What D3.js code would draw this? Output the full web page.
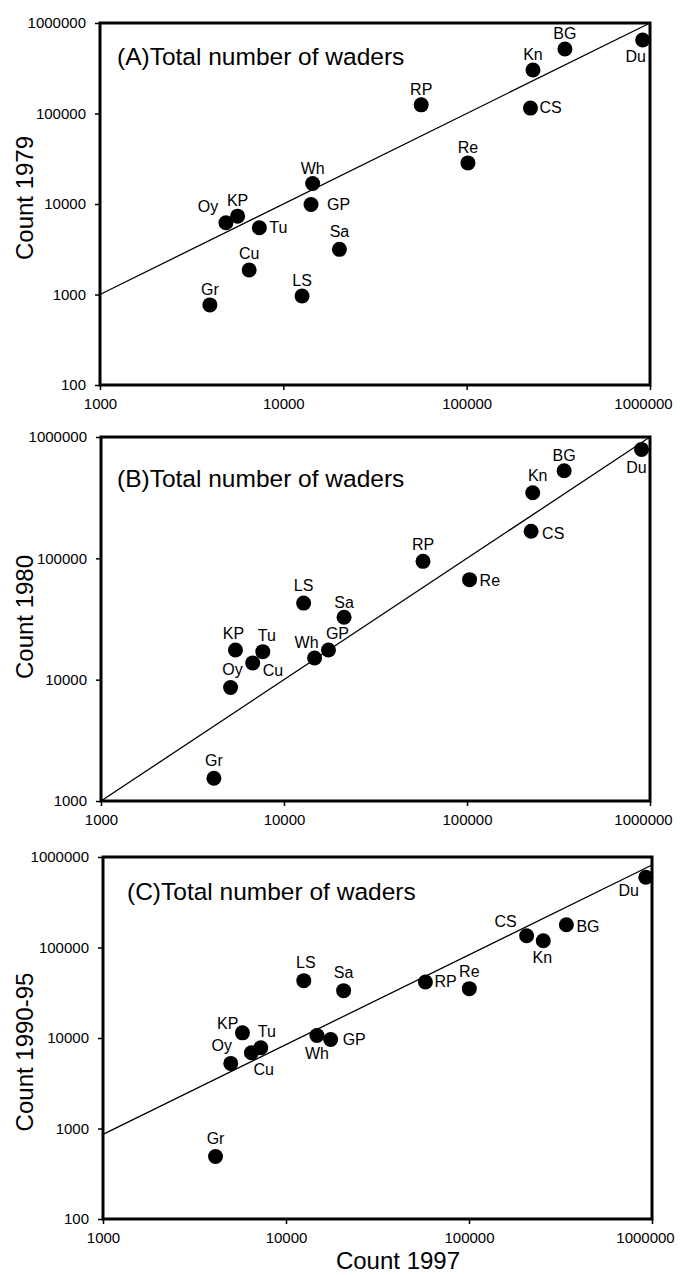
<!DOCTYPE html>
<html>
<head>
<meta charset="utf-8">
<script src="https://cdn.jsdelivr.net/npm/d3@7"></script>
<style>
  body { margin: 0; background: #fff; }
  svg text { font-family: 'Liberation Sans', Arial, Helvetica, sans-serif; fill: #000; }
</style>
</head>
<body>
<svg id="chart" width="680" height="1275"></svg>
<script>
'use strict';

// species codes, same order in every panel
const species = ['Gr', 'Cu', 'Oy', 'KP', 'Tu', 'LS', 'Wh', 'GP', 'Sa', 'RP', 'Re', 'Kn', 'CS', 'BG', 'Du'];

// panel A: 1997 vs 1979
const count1997A = [3975, 6510, 4863, 5630, 7400, 12650, 14450, 14160, 20230, 56500, 101600, 230000, 222800, 343500, 912000];
const count1979 = [767, 1866, 6210, 7340, 5470, 964, 16830, 9860, 3155, 124700, 28450, 303000, 114800, 516000, 650000];

// panel B: 1997 vs 1980
const count1997B = [4140, 6745, 5105, 5430, 7660, 12800, 14690, 17500, 21290, 57500, 103300, 228600, 224000, 339500, 899000];
const count1980 = [1541, 13740, 8630, 17580, 17020, 42750, 15100, 17580, 32730, 94400, 66700, 346700, 167000, 527000, 790000];

// panel C: 1997 vs 1990-95
const count1997C = [4120, 6470, 4990, 5780, 7280, 12510, 14760, 17540, 20650, 57800, 100400, 254600, 206500, 340500, 925000];
const count199095 = [491, 6870, 5240, 11400, 7800, 43000, 10670, 9620, 33340, 41600, 35100, 118600, 134600, 178300, 597000];

// fitted lines (end points, x then y)
const fitA = [[1000, 1000], [1000000, 1000000]];
const fitB = [[1000, 1000], [1000000, 1000000]];
const fitC = [[1000, 860], [1000000, 816000]];

// tick values
const xTicks = [1000, 10000, 100000, 1000000];
const yTicksA = [100, 1000, 10000, 100000, 1000000];
const yTicksB = [1000, 10000, 100000, 1000000];
const yTicksC = [100, 1000, 10000, 100000, 1000000];

// label placement per species: [dx, dy, anchor]
const labelPosA = {
  Gr: [0, -10], Cu: [0, -11], Oy: [-18, -11], KP: [0, -10], Tu: [10, 5, 'start'],
  LS: [0, -10], Wh: [0, -10], GP: [16, 5, 'start'], Sa: [0, -12], RP: [0, -10],
  Re: [0, -10], Kn: [0, -10], CS: [9, 5, 'start'], BG: [0, -10], Du: [-7, 22]
};
const labelPosB = {
  Gr: [0, -12], Cu: [10, 13, 'start'], Oy: [2, -12], KP: [-2, -11], Tu: [4, -11],
  LS: [0, -12], Wh: [-8, -10], GP: [9, -11], Sa: [0, -9], RP: [0, -11],
  Re: [10, 6, 'start'], Kn: [5, -12], CS: [11, 8, 'start'], BG: [0, -10], Du: [-5, 24]
};
const labelPosC = {
  Gr: [0, -12], Cu: [2, 22, 'start'], Oy: [-9, -12], KP: [-4, -4, 'end'], Tu: [6, -11],
  LS: [2, -13], Wh: [0, 24], GP: [12, 5, 'start'], Sa: [0, -13], RP: [9, 5, 'start'],
  Re: [0, -12], Kn: [-1, 22], CS: [-21, -9], BG: [10, 7, 'start'], Du: [-17, 19]
};

const svg = d3.select('#chart');

const panels = [
  {
    title: '(A)Total number of waders', yTitle: 'Count 1979', yTitleY: 198,
    xs: count1997A, ys: count1979, fit: fitA, yTicks: yTicksA, yDomain: [100, 1000000],
    labels: labelPosA, left: 100, right: 650, top: 23, bottom: 385, titleX: 117, titleY: 65
  },
  {
    title: '(B)Total number of waders', yTitle: 'Count 1980', yTitleY: 617,
    xs: count1997B, ys: count1980, fit: fitB, yTicks: yTicksB, yDomain: [1000, 1000000],
    labels: labelPosB, left: 101, right: 650, top: 437, bottom: 801, titleX: 117, titleY: 487
  },
  {
    title: '(C)Total number of waders', yTitle: 'Count 1990-95', yTitleY: 1052,
    xs: count1997C, ys: count199095, fit: fitC, yTicks: yTicksC, yDomain: [100, 1000000],
    labels: labelPosC, left: 103, right: 652, top: 857, bottom: 1219, titleX: 127, titleY: 900
  }
];

panels.forEach(drawPanel);

// x axis title, only under the last panel
svg.append('text')
  .attr('x', 398)
  .attr('y', 1269)
  .attr('text-anchor', 'middle')
  .style('font-size', '24px')
  .text('Count 1997');

/**
 * Draws one log-log scatter panel
 * @param {Object} p panel settings
 */
function drawPanel(p) {
  const x = d3.scaleLog().domain([1000, 1000000]).range([p.left, p.right]);
  const y = d3.scaleLog().domain(p.yDomain).range([p.bottom, p.top]);
  const g = svg.append('g');

  // frame
  g.append('rect')
    .attr('x', p.left)
    .attr('y', p.top)
    .attr('width', p.right - p.left)
    .attr('height', p.bottom - p.top)
    .attr('fill', 'none')
    .attr('stroke', '#000')
    .attr('stroke-width', 3);

  // axes
  const xAxis = d3.axisBottom(x).tickValues(xTicks).tickSize(5).tickPadding(8)
    .tickFormat(d3.format('d'));
  const yAxis = d3.axisLeft(y).tickValues(p.yTicks).tickSize(5).tickPadding(9)
    .tickFormat(d3.format('d'));

  const gx = g.append('g')
    .attr('transform', 'translate(0,' + p.bottom + ')')
    .call(xAxis);
  const gy = g.append('g')
    .attr('transform', 'translate(' + p.left + ',0)')
    .call(yAxis);

  [gx, gy].forEach(function(a) {
    a.select('.domain').remove();
    a.selectAll('.tick line').attr('stroke', '#000').attr('stroke-width', 1.5);
    a.selectAll('.tick text')
      .style('font-size', '15px')
      .style('font-family', '\'Liberation Sans\', Arial, sans-serif');
  });

  // the last x label sits a little left of its tick, inside the page
  gx.selectAll('.tick text')
    .filter(function(d) {
      return d === 1000000;
    })
    .attr('dx', -7);

  // y axis title
  g.append('text')
    .attr('transform', 'translate(33,' + p.yTitleY + ') rotate(-90)')
    .attr('text-anchor', 'middle')
    .style('font-size', '24px')
    .text(p.yTitle);

  // panel title
  g.append('text')
    .attr('x', p.titleX)
    .attr('y', p.titleY)
    .style('font-size', '24.5px')
    .text(p.title);

  // fitted line
  g.append('line')
    .attr('x1', x(p.fit[0][0]))
    .attr('y1', y(p.fit[0][1]))
    .attr('x2', x(p.fit[1][0]))
    .attr('y2', y(p.fit[1][1]))
    .attr('stroke', '#000')
    .attr('stroke-width', 1.3);

  const data = species.map(function(s, i) {
    return { name: s, x: p.xs[i], y: p.ys[i] };
  });

  // points
  g.selectAll('circle.pt')
    .data(data)
    .enter()
    .append('circle')
    .attr('class', 'pt')
    .attr('cx', function(d) {
      return x(d.x);
    })
    .attr('cy', function(d) {
      return y(d.y);
    })
    .attr('r', 7.5)
    .attr('fill', '#000');

  // point labels
  g.selectAll('text.lbl')
    .data(data)
    .enter()
    .append('text')
    .attr('class', 'lbl')
    .attr('x', function(d) {
      return x(d.x) + p.labels[d.name][0];
    })
    .attr('y', function(d) {
      return y(d.y) + p.labels[d.name][1];
    })
    .attr('text-anchor', function(d) {
      return p.labels[d.name][2] || 'middle';
    })
    .style('font-size', '16px')
    .text(function(d) {
      return d.name;
    });
}
</script>
</body>
</html>
